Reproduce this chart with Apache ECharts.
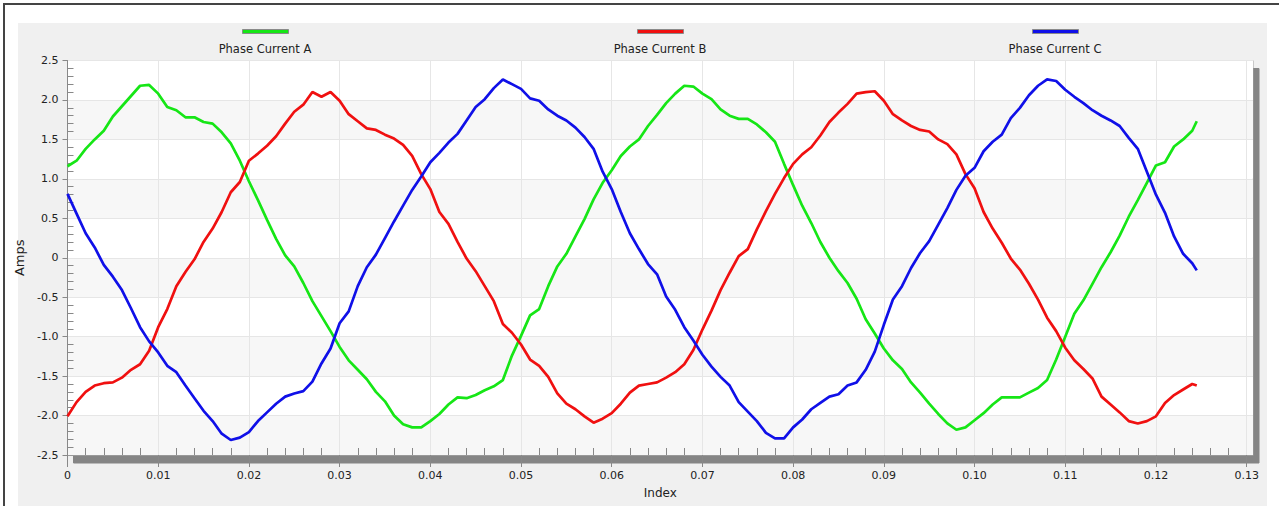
<!DOCTYPE html>
<html>
<head>
<meta charset="utf-8">
<script src="https://cdn.jsdelivr.net/npm/echarts@6/dist/echarts.min.js"></script>
<style>
  html, body { margin:0; padding:0; background:#ffffff; width:1279px; height:506px; overflow:hidden; }
  #frame { position:absolute; left:3px; top:3px; right:0; bottom:0; border-top:2px solid #444; border-left:2px solid #444; }
  #panel { position:absolute; left:18px; top:23px; width:1249px; bottom:0; background:#f0f0f0; }
  #chart { position:absolute; left:0; top:0; width:1279px; height:506px; }
</style>
</head>
<body>
<div id="frame"></div>
<div id="panel"></div>
<div id="chart"></div>
<script>
// ---------- data ----------
const seriesNames = ['Phase Current A', 'Phase Current B', 'Phase Current C'];
const seriesColors = ['#16e616', '#f01010', '#1010e8'];

const indexValues = [
  0.000, 0.001, 0.002, 0.003, 0.004, 0.005, 0.006, 0.007, 0.008, 0.009,
  0.010, 0.011, 0.012, 0.013, 0.014, 0.015, 0.016, 0.017, 0.018, 0.019,
  0.020, 0.021, 0.022, 0.023, 0.024, 0.025, 0.026, 0.027, 0.028, 0.029,
  0.030, 0.031, 0.032, 0.033, 0.034, 0.035, 0.036, 0.037, 0.038, 0.039,
  0.040, 0.041, 0.042, 0.043, 0.044, 0.045, 0.046, 0.047, 0.048, 0.049,
  0.050, 0.051, 0.052, 0.053, 0.054, 0.055, 0.056, 0.057, 0.058, 0.059,
  0.060, 0.061, 0.062, 0.063, 0.064, 0.065, 0.066, 0.067, 0.068, 0.069,
  0.070, 0.071, 0.072, 0.073, 0.074, 0.075, 0.076, 0.077, 0.078, 0.079,
  0.080, 0.081, 0.082, 0.083, 0.084, 0.085, 0.086, 0.087, 0.088, 0.089,
  0.090, 0.091, 0.092, 0.093, 0.094, 0.095, 0.096, 0.097, 0.098, 0.099,
  0.100, 0.101, 0.102, 0.103, 0.104, 0.105, 0.106, 0.107, 0.108, 0.109,
  0.110, 0.111, 0.112, 0.113, 0.114, 0.115, 0.116, 0.117, 0.118, 0.119,
  0.120, 0.121, 0.122, 0.123, 0.124, 0.1245
];

const phaseA = [
  1.16, 1.23, 1.38, 1.50, 1.61, 1.79, 1.92, 2.05, 2.18, 2.19,
  2.08, 1.91, 1.87, 1.78, 1.78, 1.72, 1.70, 1.59, 1.45, 1.23,
  0.97, 0.73, 0.48, 0.24, 0.03, -0.11, -0.32, -0.55, -0.74, -0.93,
  -1.13, -1.30, -1.42, -1.54, -1.70, -1.82, -2.00, -2.11, -2.15, -2.15,
  -2.07, -1.98, -1.86, -1.77, -1.78, -1.74, -1.68, -1.63, -1.55, -1.24,
  -0.99, -0.73, -0.65, -0.36, -0.11, 0.05, 0.27, 0.49, 0.74, 0.95,
  1.11, 1.29, 1.41, 1.50, 1.67, 1.81, 1.96, 2.08, 2.18, 2.17,
  2.08, 2.01, 1.88, 1.80, 1.76, 1.76, 1.69, 1.59, 1.47, 1.19,
  0.92, 0.66, 0.44, 0.20, 0.00, -0.17, -0.32, -0.52, -0.78, -0.96,
  -1.15, -1.30, -1.41, -1.58, -1.71, -1.85, -1.98, -2.10, -2.18, -2.15,
  -2.06, -1.97, -1.86, -1.77, -1.77, -1.77, -1.71, -1.65, -1.55, -1.29,
  -1.00, -0.71, -0.54, -0.33, -0.12, 0.07, 0.28, 0.52, 0.73, 0.95,
  1.17, 1.21, 1.41, 1.50, 1.61, 1.73
];

const phaseB = [
  -2.01, -1.83, -1.70, -1.62, -1.59, -1.58, -1.52, -1.42, -1.35, -1.18,
  -0.88, -0.65, -0.36, -0.18, -0.02, 0.20, 0.37, 0.58, 0.83, 0.96,
  1.23, 1.32, 1.42, 1.54, 1.70, 1.85, 1.94, 2.10, 2.04, 2.10,
  1.99, 1.82, 1.73, 1.64, 1.62, 1.56, 1.51, 1.43, 1.29, 1.06,
  0.87, 0.58, 0.43, 0.20, -0.01, -0.17, -0.36, -0.55, -0.84, -0.95,
  -1.10, -1.29, -1.37, -1.51, -1.72, -1.85, -1.92, -2.01, -2.09, -2.04,
  -1.97, -1.85, -1.71, -1.62, -1.60, -1.58, -1.52, -1.45, -1.35, -1.17,
  -0.91, -0.67, -0.41, -0.19, 0.02, 0.11, 0.36, 0.59, 0.81, 1.01,
  1.19, 1.31, 1.40, 1.55, 1.72, 1.84, 1.95, 2.08, 2.10, 2.11,
  1.99, 1.82, 1.74, 1.67, 1.62, 1.60, 1.50, 1.44, 1.31, 1.06,
  0.88, 0.58, 0.37, 0.19, -0.01, -0.15, -0.33, -0.53, -0.76, -0.93,
  -1.14, -1.30, -1.41, -1.53, -1.76, -1.86, -1.96, -2.07, -2.10, -2.07,
  -2.01, -1.84, -1.74, -1.67, -1.60, -1.62
];

const phaseC = [
  0.81, 0.56, 0.31, 0.13, -0.09, -0.24, -0.41, -0.64, -0.88, -1.06,
  -1.20, -1.37, -1.45, -1.62, -1.78, -1.94, -2.07, -2.23, -2.31, -2.28,
  -2.21, -2.07, -1.96, -1.85, -1.76, -1.72, -1.69, -1.57, -1.34, -1.15,
  -0.83, -0.68, -0.36, -0.12, 0.04, 0.25, 0.46, 0.66, 0.86, 1.03,
  1.21, 1.33, 1.46, 1.57, 1.74, 1.91, 2.01, 2.15, 2.26, 2.20,
  2.14, 2.02, 1.99, 1.88, 1.80, 1.74, 1.65, 1.53, 1.38, 1.09,
  0.87, 0.58, 0.31, 0.11, -0.08, -0.21, -0.49, -0.66, -0.88, -1.05,
  -1.23, -1.38, -1.51, -1.62, -1.83, -1.95, -2.07, -2.22, -2.29, -2.29,
  -2.15, -2.05, -1.92, -1.84, -1.76, -1.73, -1.62, -1.58, -1.42, -1.19,
  -0.85, -0.53, -0.36, -0.13, 0.06, 0.21, 0.42, 0.63, 0.86, 1.04,
  1.14, 1.35, 1.47, 1.56, 1.77, 1.90, 2.06, 2.18, 2.26, 2.24,
  2.13, 2.04, 1.96, 1.87, 1.80, 1.74, 1.67, 1.52, 1.38, 1.09,
  0.80, 0.57, 0.27, 0.05, -0.07, -0.16
];

const xMajorTicks = [0, 0.01, 0.02, 0.03, 0.04, 0.05, 0.06, 0.07, 0.08, 0.09, 0.10, 0.11, 0.12, 0.13];

// minor tick positions (every 0.002 on x, 0.1 on y, skipping majors)
const xMinorTicks = [];
for (let i = 1; i <= 65; i++) { if (i % 5 !== 0) xMinorTicks.push(Math.round(i * 2) / 1000); }
const yMinorTicks = [];
for (let i = -25; i <= 25; i++) { if (i % 5 !== 0) yMinorTicks.push(i / 10); }

// ---------- chart ----------
const FONT = 'DejaVu Sans';
const X_MAX = 0.1307;
const chart = echarts.init(document.getElementById('chart'), null, { renderer: 'svg' });

const legendCenters = [265, 660, 1055];

const option = {
  animation: false,
  backgroundColor: 'transparent',
  textStyle: { fontFamily: FONT },
  grid: {
    left: 67.5, top: 60.5, right: 26, bottom: 51,
    show: true, backgroundColor: '#ffffff',
    borderColor: '#a0a0a0', borderWidth: 1,
    shadowColor: '#858585', shadowOffsetX: 6, shadowOffsetY: 8, shadowBlur: 0
  },
  legend: seriesNames.map((n, i) => ({
    data: [n], left: legendCenters[i] - 23, top: 29, padding: 0,
    itemWidth: 46, itemHeight: 4, icon: 'rect', selectedMode: false,
    formatter: () => '', textStyle: { fontSize: 1 },
    itemStyle: { borderColor: '#8a8a8a', borderWidth: 1 }
  })),
  graphic: seriesNames.map((n, i) => ({
    type: 'text', x: legendCenters[i], y: 48.5,
    style: { text: n, align: 'center', verticalAlign: 'middle', font: '11.5px "DejaVu Sans"', fill: '#222' }
  })),
  xAxis: [
    {
      type: 'value', min: 0, max: X_MAX, interval: 0.01, position: 'bottom',
      name: 'Index', nameLocation: 'middle', nameGap: 32,
      nameTextStyle: { fontSize: 12, color: '#222', fontFamily: FONT },
      axisLine: { show: true, onZero: false, lineStyle: { color: '#999', width: 1 } },
      axisTick: { show: true, inside: false, length: 12, customValues: xMajorTicks, lineStyle: { color: '#888' } },
      axisLabel: {
        customValues: xMajorTicks, margin: 15, fontSize: 11, color: '#222', fontFamily: FONT,
        formatter: v => (v === 0 ? '0' : v.toFixed(2))
      },
      splitLine: { show: true, lineStyle: { color: '#e6e6e6', width: 1 } }
    },
    {
      type: 'value', min: 0, max: X_MAX, interval: 0.002, position: 'bottom',
      axisLine: { show: false, onZero: false },
      axisTick: { show: true, inside: true, length: 7, customValues: xMinorTicks, lineStyle: { color: '#888' } },
      axisLabel: { show: false },
      splitLine: { show: false }
    }
  ],
  yAxis: [
    {
      type: 'value', min: -2.5, max: 2.5, interval: 0.5, position: 'left',
      name: 'Amps', nameLocation: 'middle', nameGap: 32, nameRotate: 90,
      nameTextStyle: { fontSize: 13, color: '#222', fontFamily: FONT },
      axisLine: { show: true, onZero: false, lineStyle: { color: '#888', width: 1 } },
      axisTick: { show: true, inside: false, length: 5, lineStyle: { color: '#888' } },
      axisLabel: {
        margin: 9, fontSize: 11, color: '#222', fontFamily: FONT,
        formatter: v => (v === 0 ? '0' : v.toFixed(1))
      },
      splitLine: { show: true, lineStyle: { color: '#e6e6e6', width: 1 } },
      splitArea: { show: true, areaStyle: { color: ['#f7f7f7', '#ffffff'] } }
    },
    {
      type: 'value', min: -2.5, max: 2.5, interval: 0.1, position: 'left',
      axisLine: { show: false, onZero: false },
      axisTick: { show: true, inside: true, length: 6, customValues: yMinorTicks, lineStyle: { color: '#888' } },
      axisLabel: { show: false },
      splitLine: { show: false }
    }
  ],
  series: [phaseA, phaseB, phaseC].map((vals, i) => ({
    name: seriesNames[i], type: 'line', xAxisIndex: 0, yAxisIndex: 0,
    showSymbol: false, symbol: 'none',
    color: seriesColors[i],
    lineStyle: { width: 2.7, color: seriesColors[i] },
    data: indexValues.map((x, k) => [x, vals[k]])
  }))
};
chart.setOption(option);
</script>
</body>
</html>
